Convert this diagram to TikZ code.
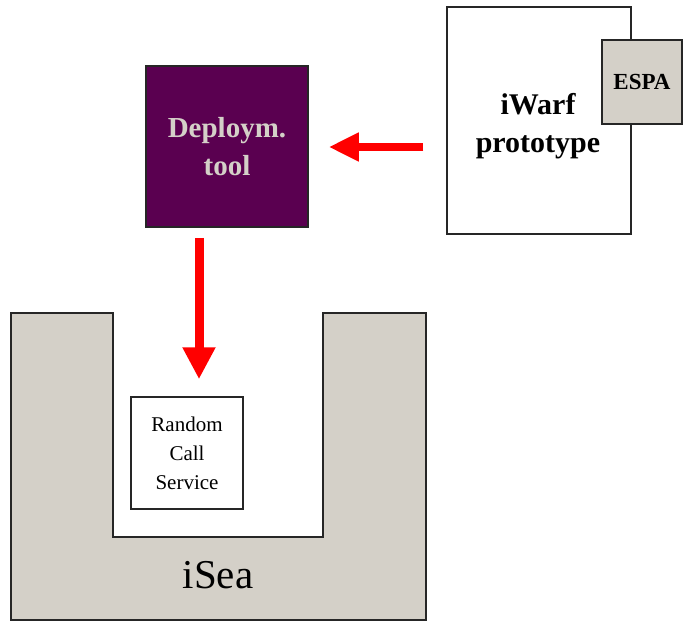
\documentclass[tikz,border=0pt]{standalone}
\usepackage{fontspec}
\setmainfont{Liberation Serif}
\usetikzlibrary{arrows.meta}
\definecolor{deeppurple}{HTML}{5A0050}
\definecolor{panelgray}{HTML}{D4D0C8}
\definecolor{arrowred}{HTML}{FF0000}
\begin{document}
\begin{tikzpicture}[x=1pt,y=-1pt,
  boxstyle/.style={draw=black!85,line width=1.5pt,rectangle,inner sep=0pt,align=center},
  bigarrow/.style={draw=arrowred,line width=#1},
]
\useasboundingbox (0,0) rectangle (683,621);
% iSea U shape
\draw[fill=panelgray,draw=black!85,line width=1.5pt]
  (11,313) -- (113,313) -- (113,537) -- (323,537) -- (323,313) -- (426,313) -- (426,620) -- (11,620) -- cycle;
\node[font=\fontsize{41}{41}\selectfont] (isea) at (218,575) {iSea};
% Deployment tool
\node[boxstyle,fill=deeppurple,minimum width=162pt,minimum height=161pt,
  text=panelgray,font=\bfseries\fontsize{29}{38}\selectfont] (deploy) at (227,146.5) {Deploym.\\tool};
% iWarf prototype
\node[boxstyle,fill=white,minimum width=184pt,minimum height=227pt] (iwarf) at (539,120.5) {};
\node[font=\bfseries\fontsize{30}{38}\selectfont,align=center] (iwarftext) at (538,126) {iWarf\\prototype};
% ESPA
\node[boxstyle,fill=panelgray,minimum width=80pt,minimum height=84pt,
  font=\bfseries\fontsize{23}{23}\selectfont] (espa) at (642,82) {ESPA};
% Random Call Service
\node[boxstyle,fill=white,minimum width=112pt,minimum height=112pt,
  font=\fontsize{21}{29}\selectfont] (rcs) at (187,453) {Random\\Call\\Service};
% Arrows
\draw[bigarrow=8pt,-{Triangle[width=27pt,length=30pt]},shorten <=23pt,shorten >=20pt]
  (iwarf.west |- 0,147) coordinate (a1) (a1) -- (deploy.east |- a1);
\draw[bigarrow=9pt,-{Triangle[width=31pt,length=32pt]},shorten <=10pt,shorten >=17pt]
  (deploy.south -| 199,0) coordinate (a2) (a2) -- (rcs.north -| a2);
\end{tikzpicture}
\end{document}
